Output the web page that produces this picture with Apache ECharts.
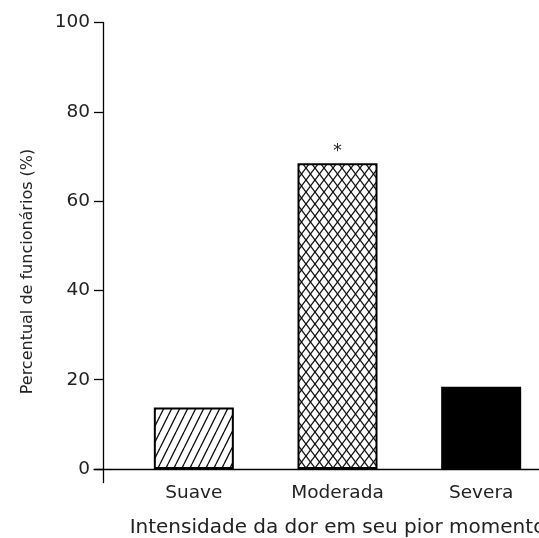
<!DOCTYPE html>
<html><head><meta charset="utf-8">
<script src="https://cdn.jsdelivr.net/npm/echarts@6/dist/echarts.min.js"></script>
<style>html,body{margin:0;padding:0;background:#fff}#c{width:539px;height:538px}</style>
</head><body><div id="c"></div>
<script>
const categories = ['Suave', 'Moderada', 'Severa'];
const values = [13.8, 68.5, 18.4];
const markLabels = ['', '*', ''];
const yTicks = [0, 20, 40, 60, 80, 100];
const yTitle = 'Percentual de funcionários (%)';
const xTitle = 'Intensidade da dor em seu pior momento';

function hatch() {
  const c = document.createElement('canvas'); c.width = 8; c.height = 16;
  const g = c.getContext('2d'); g.fillStyle = '#fff'; g.fillRect(0, 0, 8, 16);
  g.strokeStyle = '#111'; g.lineWidth = 1.3;
  for (const dx of [-8, 0, 8]) { g.beginPath(); g.moveTo(dx, 16); g.lineTo(dx + 8, 0); g.stroke(); }
  return c;
}
function cross() {
  const c = document.createElement('canvas'); c.width = 9; c.height = 12;
  const g = c.getContext('2d'); g.fillStyle = '#fff'; g.fillRect(0, 0, 9, 12);
  g.strokeStyle = '#111'; g.lineWidth = 1.3;
  for (const dx of [-9, 0, 9]) {
    g.beginPath(); g.moveTo(dx, 0); g.lineTo(dx + 9, 12); g.stroke();
    g.beginPath(); g.moveTo(dx + 9, 0); g.lineTo(dx, 12); g.stroke();
  }
  return c;
}
const fills = [
  { image: hatch(), repeat: 'repeat' },
  { image: cross(), repeat: 'repeat' },
  '#000'
];
const font = '"DejaVu Sans", sans-serif';
const txt = '#222';
const ppu = (469 - 22.5) / 100;
const yMin1 = -(482.5 - 469) / ppu;

const chart = echarts.init(document.getElementById('c'), null, { renderer: 'canvas' });
chart.setOption({
  animation: false,
  backgroundColor: '#fff',
  textStyle: { fontFamily: font, color: txt },
  grid: [
    { left: 122, width: 431, top: 22.5, bottom: 69, outerBoundsMode: 'none', containLabel: false },
    { left: 103, width: 20, top: 22.5, bottom: 55.5, outerBoundsMode: 'none', containLabel: false },
    { left: 94, width: 445, top: 22.5, bottom: 69, outerBoundsMode: 'none', containLabel: false }
  ],
  xAxis: [
    { gridIndex: 0, type: 'category', data: categories,
      axisLine: { show: false }, axisTick: { show: false },
      axisLabel: { interval: 0, fontSize: 18.5, color: txt, margin: 15, fontFamily: font },
      name: xTitle, nameLocation: 'middle', nameGap: 49,
      nameTextStyle: { fontSize: 20, color: txt, fontFamily: font, align: 'center' } },
    { gridIndex: 1, type: 'value', show: false },
    { gridIndex: 2, type: 'value', min: 0, max: 1,
      axisLine: { show: true, onZero: false, lineStyle: { color: '#000', width: 1.3 } },
      axisTick: { show: false }, axisLabel: { show: false }, splitLine: { show: false } }
  ],
  yAxis: [
    { gridIndex: 0, type: 'value', min: 0, max: 100, show: false },
    { gridIndex: 1, type: 'value', min: yMin1, max: 100,
      axisLine: { show: true, lineStyle: { color: '#000', width: 1.3 } },
      axisTick: { show: true, length: 9, customValues: yTicks, lineStyle: { color: '#000', width: 1.3 } },
      axisLabel: { customValues: yTicks, fontSize: 18.5, color: txt, margin: 13, fontFamily: font },
      splitLine: { show: false },
      name: yTitle, nameLocation: 'middle', nameGap: 67, nameRotate: 90,
      nameTextStyle: { fontSize: 16, color: txt, fontFamily: font, padding: [0, 38, 0, 0] } },
    { gridIndex: 2, type: 'value', show: false }
  ],
  series: [{
    type: 'bar', xAxisIndex: 0, yAxisIndex: 0, barWidth: 80,
    data: values.map((v, i) => ({
      value: v,
      itemStyle: { color: fills[i], borderColor: '#000', borderWidth: 2 },
      label: { show: markLabels[i] !== '', position: 'top', distance: 3,
        formatter: () => markLabels[i], fontSize: 17, color: txt }
    }))
  }]
});
</script></body></html>
